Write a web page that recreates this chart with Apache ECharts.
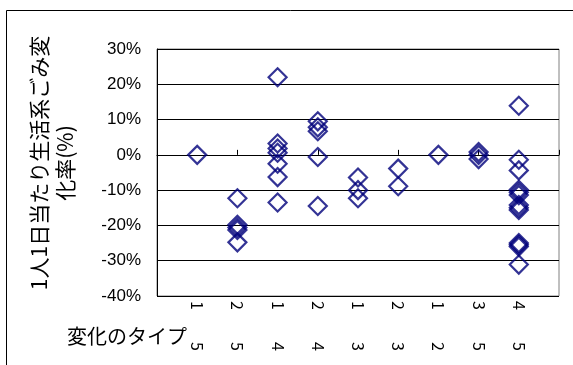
<!DOCTYPE html>
<html>
<head>
<meta charset="utf-8">
<style>
  html, body { margin: 0; padding: 0; background: #ffffff; }
  #chart { width: 573px; height: 365px; }
</style>
<script src="https://cdn.jsdelivr.net/npm/echarts@6/dist/echarts.min.js"></script>
</head>
<body>
<div id="chart"></div>
<script>
// Type of change: from-type and to-type for each category (x = 1..9)
const typeFrom = [1, 2, 1, 2, 1, 2, 1, 3, 4];
const typeTo   = [5, 5, 4, 4, 3, 3, 2, 5, 5];

// Change rate (%) of household waste per person per day, per category
const rateType1to5 = [0];
const rateType2to5 = [-12.3, -19.8, -20.6, -21.3, -24.8];
const rateType1to4 = [22.0, 3.2, 1.8, 0.6, -2.5, -6.3, -13.5];
const rateType2to4 = [9.5, 7.8, 6.7, -0.6, -14.5];
const rateType1to3 = [-6.4, -10.0, -12.3];
const rateType2to3 = [-3.9, -8.9];
const rateType1to2 = [0];
const rateType3to5 = [0.8, 0.0, -1.2];
const rateType4to5 = [13.9, -1.4, -4.4, -9.9, -10.6, -11.4, -14.2, -15.0, -15.6, -25.0, -25.5, -26.0, -31.1];

// Y axis ticks (%)
const yTicks = { min: -40, max: 30, step: 10 };

const rateGroups = [
  rateType1to5, rateType2to5, rateType1to4, rateType2to4, rateType1to3,
  rateType2to3, rateType1to2, rateType3to5, rateType4to5
];

const points = [];
rateGroups.forEach((rates, i) => {
  rates.forEach(v => points.push([i + 1, v]));
});

const typeLabels = typeFrom.map((f, i) => f + '\u3000\u3000' + typeTo[i]);

const chart = echarts.init(document.getElementById('chart'), null, { renderer: 'canvas' });

const latin = '"Liberation Sans", Arial, sans-serif';
const cjk = '"Noto Sans CJK JP", "Liberation Sans", sans-serif';

chart.setOption({
  animation: false,
  backgroundColor: '#ffffff',
  grid: {
    left: 157, top: 49, right: 14, bottom: 69,
    show: true, borderColor: '#808080', borderWidth: 1,
    containLabel: false
  },
  xAxis: [
    {
      // category labels along the bottom
      type: 'value', min: 0, max: 10, interval: 1,
      position: 'bottom',
      axisLine: { show: false, onZero: false },
      axisTick: { show: false },
      splitLine: { show: false },
      axisLabel: {
        show: true, rotate: -90, margin: 5,
        fontFamily: cjk, fontSize: 16, color: '#000',
        formatter: v => (v >= 1 && v <= 9) ? typeLabels[v - 1] : ''
      }
    },
    {
      // axis line crossing at 0%
      type: 'value', min: 0, max: 10, interval: 2,
      position: 'top',
      axisLine: { show: true, onZero: true, lineStyle: { color: '#000', width: 1 } },
      axisTick: { show: true, inside: false, length: 5, lineStyle: { color: '#000' } },
      axisLabel: { show: false },
      splitLine: { show: false }
    }
  ],
  yAxis: {
    type: 'value', min: yTicks.min, max: yTicks.max, interval: yTicks.step,
    axisLine: { show: true, lineStyle: { color: '#000', width: 1 } },
    axisTick: { show: false },
    splitLine: { show: true, lineStyle: { color: '#000', width: 1 } },
    axisLabel: {
      margin: 16, fontFamily: latin, fontSize: 17, color: '#000',
      padding: [8, 0, 0, 0],
      formatter: v => v + '%'
    }
  },
  series: [{
    type: 'scatter',
    xAxisIndex: 0,
    data: points,
    symbol: 'diamond',
    symbolSize: 18,
    itemStyle: { color: 'rgba(255,255,255,0)', borderColor: '#00007a', borderWidth: 2.2 },
    emphasis: { disabled: true },
    silent: true
  }],
  graphic: [
    {
      type: 'rect',
      shape: { x: 6.5, y: 10.5, width: 700, height: 500 },
      style: { fill: 'none', stroke: '#000', lineWidth: 1 },
      silent: true, z: -10
    },
    {
      type: 'text',
      x: 52, y: 163, rotation: Math.PI / 2,
      style: {
        text: '1人1日当たり生活系ごみ変\n化率(%)',
        fontFamily: cjk, fontSize: 21, lineHeight: 26,
        fill: '#000', textAlign: 'center', verticalAlign: 'middle', textVerticalAlign: 'middle'
      },
      silent: true
    },
    {
      type: 'text',
      x: 67, y: 336,
      style: {
        text: '変化のタイプ',
        fontFamily: cjk, fontSize: 20,
        fill: '#000', textAlign: 'left', verticalAlign: 'middle', textVerticalAlign: 'middle'
      },
      silent: true
    }
  ]
});
</script>
</body>
</html>
